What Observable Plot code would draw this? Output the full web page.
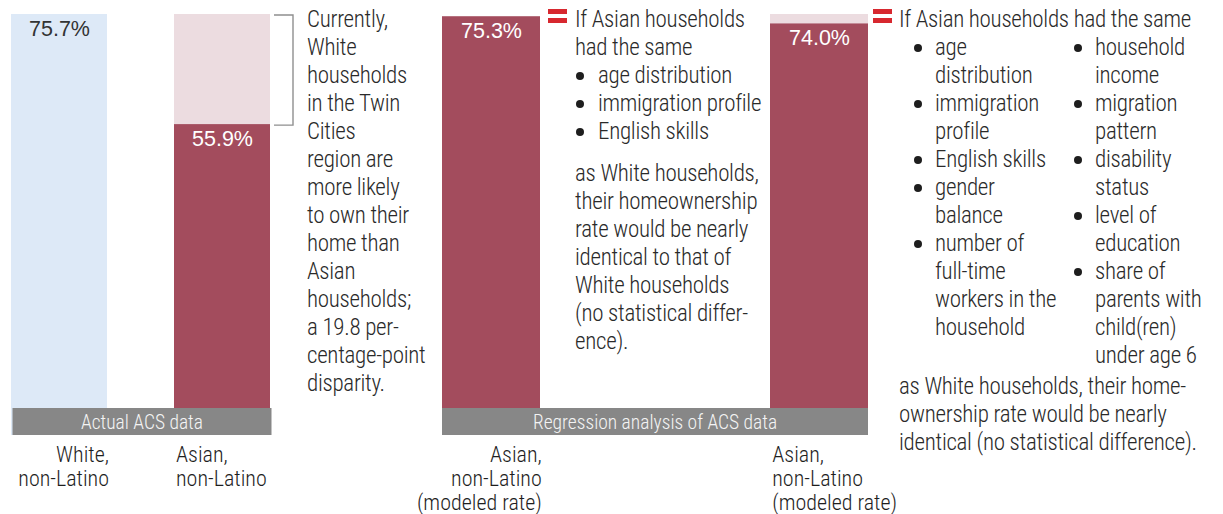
<!DOCTYPE html>
<html>
<head>
<meta charset="utf-8">
<script src="https://cdn.jsdelivr.net/npm/d3@7"></script>
<script src="https://cdn.jsdelivr.net/npm/@observablehq/plot@0.6"></script>
<style>
  body { margin: 0; background: #fff; }
  #wrap { position: relative; width: 1223px; height: 514px; overflow: hidden;
          font-family: "Liberation Sans Narrow", "Arial Narrow", "Roboto Condensed", "DejaVu Sans Condensed", sans-serif;
          color: #2a2a2a; font-weight: 300; }
  #wrap svg { position: absolute; left: 0; top: 0; background: transparent !important; }
  .note { position: absolute; font-size: 23px; line-height: 28px; letter-spacing: -0.3px; white-space: nowrap; }
  .itemx { position: relative; }
  .eq { position: absolute; width: 19px; height: 14px; }
  .eq span { position: absolute; left: 0; width: 19px; height: 5px; background: #d7282f; }
</style>
</head>
<body>
<div id="wrap"></div>
<script>
// ---------- data ----------
const actualIds = ["White", "Asian"];
const actualRates = [75.7, 55.9];
const actualLabels = ["White,\nnon-Latino", "Asian,\nnon-Latino"];
const modeledIds = ["Model A", "Model B"];
const modeledRates = [75.3, 74.0];
const modeledLabels = ["Asian,\nnon-Latino\n(modeled rate)", "Asian,\nnon-Latino\n(modeled rate)"];
const whiteRate = 75.7;
const bandLabels = ["Actual ACS data", "Regression analysis of ACS data"];

const disparityNote = ["Currently,", "White", "households", "in the Twin", "Cities", "region are",
  "more likely", "to own their", "home than", "Asian", "households;", "a 19.8 per-",
  "centage-point", "disparity."];
const modelAIntro = ["If Asian households", "had the same"];
const modelAFactors = ["age distribution", "immigration profile", "English skills"];
const modelAOutro = ["as White households,", "their homeownership", "rate would be nearly",
  "identical to that of", "White households", "(no statistical differ-", "ence)."];
const modelBIntro = ["If Asian households had the same"];
const modelBFactorsLeft = [["age", "distribution"], ["immigration", "profile"], ["English skills"],
  ["gender", "balance"], ["number of", "full-time", "workers in the", "household"]];
const modelBFactorsRight = [["household", "income"], ["migration", "pattern"], ["disability", "status"],
  ["level of", "education"], ["share of", "parents with", "child(ren)", "under age 6"]];
const modelBOutro = ["as White households, their home-", "ownership rate would be nearly",
  "identical (no statistical difference)."];

// ---------- style ----------
const FONT_C = '"Liberation Sans Narrow", "Arial Narrow", "Roboto Condensed", "DejaVu Sans Condensed", sans-serif';
const FONT_R = '"Liberation Sans", Arial, sans-serif';
const LIGHT_BLUE = "#dde9f7", PINK = "#ecdce0", DARK = "#a34c5d", GREY = "#878787";

const wrap = document.getElementById("wrap");

function build(cfg) {
  const xOpts = {type: "band", domain: cfg.ids, range: cfg.xRange, paddingInner: cfg.paddingInner, paddingOuter: 0};
  const bw = Plot.scale({x: xOpts}).bandwidth;
  const rows = cfg.ids.map((id, i) => ({
    id, rate: cfg.rates[i], label: cfg.labels[i], barFill: cfg.barFills[i],
    textFill: cfg.textFills[i], ref: cfg.refs[i], anchor: cfg.anchors[i]
  }));
  const labelOpts = {x: "id", frameAnchor: "bottom", text: "label", lineAnchor: "top", dy: 9,
    lineHeight: 1.1, fontSize: 22, fill: "#1e1e1e", fontFamily: FONT_C, fontWeight: 300};
  const chart = Plot.plot({
    width: 1223, height: 514,
    marginTop: 14, marginBottom: 79, marginLeft: 0, marginRight: 0,
    x: {...xOpts, axis: null},
    y: {domain: [0, whiteRate], axis: null},
    color: {type: "identity"},
    style: {background: "transparent", overflow: "visible"},
    marks: [
      Plot.barY(rows.filter(d => d.ref != null), {x: "id", y: "ref", fill: PINK}),
      Plot.barY(rows, {x: "id", y: "rate", fill: "barFill"}),
      Plot.text(rows, {x: "id", y: "rate", text: d => d.rate.toFixed(1) + "%", fill: "textFill",
        lineAnchor: "top", dy: 6, fontSize: 21.5, fontFamily: FONT_R}),
      Plot.text(rows.filter(d => d.anchor === "end"), {...labelOpts, textAnchor: "end", dx: bw / 2 + 1}),
      Plot.text(rows.filter(d => d.anchor === "start"), {...labelOpts, textAnchor: "start", dx: -bw / 2 + 2})
    ]
  });
  // grey group band over the bars' base, positioned from the scales
  const xs = chart.scale("x"), ys = chart.scale("y");
  const x0 = xs.apply(cfg.ids[0]) + cfg.bandShift;
  const x1 = xs.apply(cfg.ids[cfg.ids.length - 1]) + xs.bandwidth + cfg.bandShift;
  const yBase = ys.apply(0);
  const g = d3.select(chart).append("g");
  g.append("rect").attr("x", x0).attr("y", yBase - 27).attr("width", x1 - x0).attr("height", 27).attr("fill", GREY);
  g.append("text").attr("x", (x0 + x1) / 2).attr("y", yBase - 6.5).attr("text-anchor", "middle")
    .attr("fill", "#f4f4f4").attr("font-size", 19.5).attr("font-weight", 300)
    .attr("font-family", FONT_C).text(cfg.band);
  wrap.appendChild(chart);
  return chart;
}

const left = build({
  ids: actualIds, rates: actualRates, labels: actualLabels,
  barFills: [LIGHT_BLUE, DARK], textFills: ["#333", "#fff"], refs: [null, whiteRate],
  anchors: ["end", "start"], xRange: [10, 271], paddingInner: 0.4085, bandShift: 1.5, band: bandLabels[0]
});
const right = build({
  ids: modeledIds, rates: modeledRates, labels: modeledLabels,
  barFills: [DARK, DARK], textFills: ["#fff", "#fff"], refs: [null, whiteRate],
  anchors: ["end", "start"], xRange: [442, 869], paddingInner: 0.70, bandShift: 0, band: bandLabels[1]
});

// bracket showing the disparity, from the left chart's scales
{
  const xs = left.scale("x"), ys = left.scale("y");
  const bx0 = xs.apply("Asian") + xs.bandwidth + 4, bx1 = bx0 + 19;
  const yT = ys.apply(whiteRate) + 1, yB = ys.apply(actualRates[1]) + 1;
  d3.select(left).append("path")
    .attr("d", `M${bx0},${yT}H${bx1}V${yB}H${bx0}`)
    .attr("fill", "none").attr("stroke", "#8f8f8f").attr("stroke-width", 1.4);
}

// ---------- annotations ----------
function note(x, y, html) {
  const d = document.createElement("div");
  d.className = "note";
  d.style.left = x + "px"; d.style.top = y + "px";
  d.innerHTML = html;
  wrap.appendChild(d);
  return d;
}
function eq(x, y) {
  const d = document.createElement("div");
  d.className = "eq"; d.style.left = x + "px"; d.style.top = y + "px";
  d.innerHTML = '<span style="top:0"></span><span style="top:9px"></span>';
  wrap.appendChild(d);
}
function bullets(items, bulletLeft, textIndent) {
  return items.map(lines =>
    `<div class="itemx" style="padding-left:${textIndent}px"><span style="position:absolute;left:${bulletLeft}px;top:10px;width:8px;height:8px;border-radius:50%;background:#1e1e1e"></span>${[].concat(lines).join("<br>")}</div>`
  ).join("");
}

note(307, 6, disparityNote.join("<br>"));

eq(548, 9);
note(575, 6,
  modelAIntro.join("<br>") +
  bullets(modelAFactors, 1, 23) +
  `<div style="margin-top:14px">${modelAOutro.join("<br>")}</div>`);

eq(873, 9);
note(899, 6, modelBIntro.join("<br>"));
note(913, 34, bullets(modelBFactorsLeft, 1, 22));
note(1073, 34, bullets(modelBFactorsRight, 1, 22));
note(899, 373, modelBOutro.join("<br>"));
</script>
</body>
</html>
